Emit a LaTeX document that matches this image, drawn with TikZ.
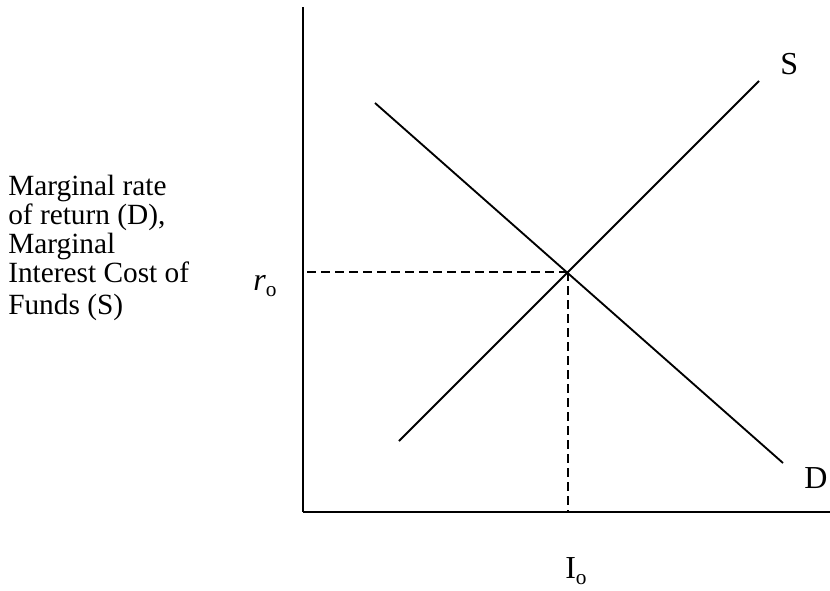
\documentclass[tikz,border=0pt]{standalone}
\usepackage{fontspec}
\setmainfont{Liberation Serif}
\newcommand{\subo}{\raisebox{-4.5pt}{\fontsize{16}{16}\selectfont o}}
\begin{document}
\begin{tikzpicture}[x=0.75pt,y=-0.75pt,
  lbl/.style={inner sep=0pt, font=\fontsize{24}{28}\selectfont},
  txt/.style={lbl, anchor=base west},
  curve/.style={line width=1.4pt},
  axthick/.style={line width=1.6pt},
  axthin/.style={line width=1pt},
  guide/.style={line width=1.2pt, dash pattern=on 6.5pt off 4pt}]
\useasboundingbox (0,0) rectangle (830,590);
% axes
\coordinate (top) at (303,7);
\coordinate (vmid) at (303,247);
\coordinate (orig) at (303,512);
\coordinate (hmid) at (783,512);
\coordinate (hend) at (830,512);
\draw[axthick] (top) -- (vmid);
\draw[axthin] (vmid) -- (orig);
\draw[axthick] (orig) -- (hmid);
\draw[axthin] (hmid) -- (hend);
% curves
\coordinate (d1) at (375,103);
\coordinate (d2) at (783,463);
\coordinate (s1) at (399,441);
\coordinate (s2) at (759,81);
\coordinate (eq) at (568,272);
\coordinate (ry) at (307,272);
\coordinate (ix) at (568,512);
\draw[curve] (d1) -- (d2);
\draw[curve] (s1) -- (s2);
\draw[guide] (ry) -- (eq);
\draw[guide] (eq) -- (ix);
% labels
\node[txt] (S) at (780,74) {S};
\node[txt] (D) at (804,488) {D};
\node[txt] (r) at (253,290) {\textit{r}\subo};
\node[txt] (I) at (565,578) {I\subo};
\node[inner sep=0pt, anchor=north west, align=left,
      font=\fontsize{22}{21.75}\selectfont] (ylab) at (8,175)
  {Marginal rate\\of return (D),\\Marginal\\Interest Cost of\\[2.25pt]Funds (S)};
\end{tikzpicture}
\end{document}
